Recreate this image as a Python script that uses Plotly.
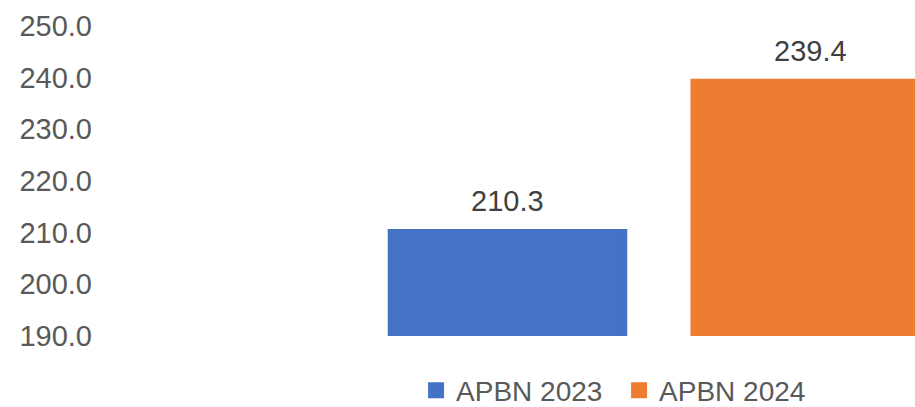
import plotly.graph_objects as go

# values
categories = ["APBN 2023", "APBN 2024"]
values = [210.3, 239.4]
colors = ["#4472C4", "#ED7D31"]
y_ticks = [190, 200, 210, 220, 230, 240, 250]

fig = go.Figure()
for cat, val, col in zip(categories, values, colors):
    fig.add_trace(go.Bar(
        x=[cat], y=[val], name=cat,
        marker=dict(color=col, line=dict(width=4, color=col)),
        hoverinfo="skip",
    ))
    # data label above the bar
    fig.add_annotation(
        x=cat, y=val, text=f"{val:.1f}",
        showarrow=False, yanchor="bottom", yshift=12,
        font=dict(size=29, color="#404040"),
    )

fig.update_layout(
    width=915, height=407,
    margin=dict(l=93, r=0, t=26, b=71, autoexpand=False),
    paper_bgcolor="white", plot_bgcolor="white",
    font=dict(family="Liberation Sans, Arial, sans-serif", color="#595959"),
    barmode="overlay",
    bargap=0.222,
    showlegend=True,
    legend=dict(
        orientation="h", x=0.640, xanchor="center",
        y=-0.176, yanchor="middle",
        font=dict(size=28, color="#595959"),
        itemwidth=30, entrywidth=158,
    ),
)
fig.update_xaxes(
    type="category", categoryorder="array", categoryarray=categories,
    range=[-1.369, 1.346], showticklabels=False, showgrid=False,
    zeroline=False, showline=False, ticks="",
)
fig.update_yaxes(
    range=[190, 250], tickvals=y_ticks, ticktext=[f"{t:.1f}" for t in y_ticks],
    showgrid=False, zeroline=False, showline=False, ticks="",
    automargin=False,
    tickfont=dict(size=29, color="#595959"),
)

# drop the default page margin so the figure sits at the window's corner
fig.write_html(
    "out.html",
    config={"displayModeBar": False},
    post_script="document.body.style.margin='0';",
)
